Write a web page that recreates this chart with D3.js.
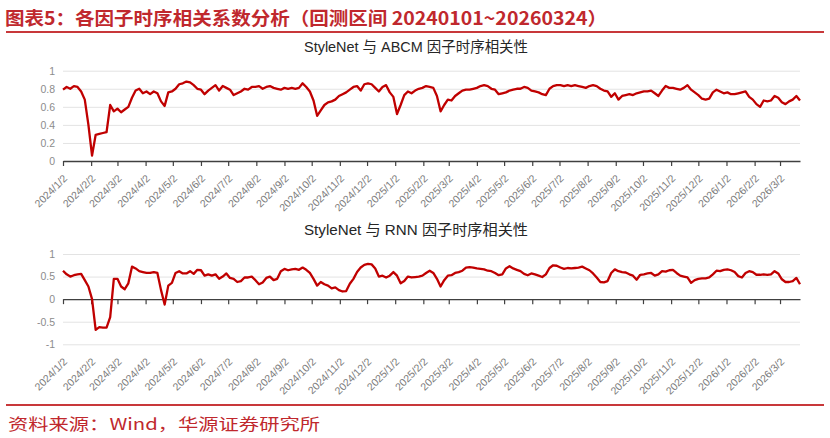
<!DOCTYPE html>
<html>
<head>
<meta charset="utf-8">
<script src="https://cdn.jsdelivr.net/npm/d3@7"></script>
<style>
  body { margin: 0; background: #fff; }
  svg { display: block; }
</style>
</head>
<body>
<script>
// values, one point every 4 calendar days from 2024/1/2
var abcmValues = [
  0.79,0.82,0.80,0.83,0.82,0.77,0.68,0.40,0.06,0.29,
  0.30,0.31,0.32,0.62,0.55,0.58,0.54,0.57,0.60,0.70,
  0.78,0.80,0.75,0.77,0.74,0.77,0.75,0.66,0.61,0.76,
  0.77,0.80,0.85,0.86,0.88,0.87,0.84,0.80,0.79,0.74,
  0.78,0.81,0.84,0.78,0.83,0.81,0.79,0.73,0.75,0.77,
  0.80,0.79,0.82,0.82,0.83,0.80,0.82,0.83,0.81,0.80,
  0.79,0.81,0.80,0.81,0.80,0.81,0.86,0.82,0.77,0.67,
  0.50,0.56,0.62,0.65,0.66,0.68,0.72,0.74,0.76,0.79,
  0.82,0.83,0.78,0.85,0.86,0.85,0.81,0.77,0.82,0.84,
  0.76,0.71,0.52,0.62,0.73,0.77,0.75,0.78,0.80,0.81,
  0.83,0.82,0.81,0.72,0.55,0.62,0.68,0.67,0.72,0.75,
  0.78,0.79,0.79,0.80,0.81,0.83,0.84,0.83,0.80,0.79,
  0.74,0.75,0.76,0.78,0.79,0.80,0.80,0.82,0.81,0.78,
  0.77,0.76,0.74,0.73,0.80,0.83,0.84,0.84,0.83,0.84,
  0.83,0.84,0.83,0.82,0.81,0.83,0.84,0.83,0.80,0.78,
  0.77,0.71,0.75,0.68,0.72,0.73,0.74,0.73,0.75,0.76,
  0.77,0.77,0.78,0.75,0.72,0.78,0.83,0.81,0.81,0.80,
  0.79,0.81,0.84,0.79,0.76,0.73,0.69,0.68,0.69,0.76,
  0.79,0.77,0.75,0.76,0.74,0.74,0.75,0.76,0.77,0.71,
  0.68,0.63,0.60,0.67,0.66,0.67,0.72,0.70,0.65,0.63,
  0.66,0.68,0.72,0.67
];

var rnnValues = [
  0.63,0.55,0.50,0.53,0.55,0.56,0.42,0.28,0.00,-0.68,
  -0.62,-0.63,-0.63,-0.40,0.45,0.45,0.28,0.22,0.35,0.72,
  0.68,0.62,0.60,0.58,0.58,0.60,0.58,0.20,-0.12,0.30,
  0.36,0.58,0.62,0.57,0.57,0.62,0.56,0.65,0.64,0.52,
  0.55,0.52,0.55,0.45,0.50,0.57,0.47,0.45,0.38,0.40,
  0.48,0.48,0.50,0.42,0.33,0.37,0.47,0.50,0.42,0.45,
  0.62,0.67,0.64,0.66,0.67,0.65,0.70,0.65,0.58,0.45,
  0.30,0.38,0.33,0.30,0.24,0.26,0.20,0.17,0.18,0.34,
  0.45,0.60,0.70,0.76,0.78,0.77,0.68,0.50,0.52,0.48,
  0.52,0.60,0.52,0.35,0.40,0.50,0.48,0.49,0.50,0.52,
  0.58,0.63,0.58,0.45,0.28,0.42,0.52,0.53,0.58,0.60,
  0.63,0.70,0.71,0.70,0.68,0.67,0.66,0.63,0.62,0.58,
  0.53,0.55,0.68,0.73,0.68,0.65,0.62,0.56,0.53,0.57,
  0.55,0.52,0.49,0.55,0.69,0.75,0.74,0.70,0.67,0.69,
  0.68,0.69,0.70,0.72,0.68,0.64,0.57,0.48,0.38,0.37,
  0.40,0.58,0.66,0.62,0.60,0.59,0.55,0.52,0.43,0.54,
  0.55,0.57,0.58,0.52,0.55,0.62,0.61,0.64,0.65,0.58,
  0.52,0.50,0.48,0.36,0.42,0.45,0.46,0.46,0.48,0.55,
  0.63,0.62,0.65,0.66,0.64,0.60,0.51,0.48,0.58,0.62,
  0.60,0.54,0.54,0.55,0.54,0.55,0.62,0.57,0.44,0.38,
  0.38,0.40,0.47,0.33
];

var tickLabels = [
  "2024/1/2","2024/2/2","2024/3/2","2024/4/2","2024/5/2","2024/6/2","2024/7/2",
  "2024/8/2","2024/9/2","2024/10/2","2024/11/2","2024/12/2","2025/1/2","2025/2/2",
  "2025/3/2","2025/4/2","2025/5/2","2025/6/2","2025/7/2","2025/8/2","2025/9/2",
  "2025/10/2","2025/11/2","2025/12/2","2026/1/2","2026/2/2","2026/3/2"
];

var topTicks = [0, 0.2, 0.4, 0.6, 0.8, 1];
var bottomTicks = [-1, -0.5, 0, 0.5, 1];

var titleText = "图表5：各因子时序相关系数分析（回测区间 20240101~20260324）";
var topTitle = "StyleNet 与 ABCM 因子时序相关性";
var bottomTitle = "StyleNet 与 RNN 因子时序相关性";
var sourceText = "资料来源：Wind，华源证券研究所";

var parseTick = d3.timeParse("%Y/%m/%d");
var startDate = parseTick("2024/1/2");
var dates = abcmValues.map(function(v, i) { return d3.timeDay.offset(startDate, 4 * i); });
var tickDates = tickLabels.map(parseTick);

var W = 830, H = 438;
var red = "#c0282d", lineRed = "#c00000";
var cjk = "'Noto Sans CJK SC', sans-serif";
var latin = "'Liberation Sans', 'Noto Sans CJK SC', sans-serif";

var svg = d3.select("body").append("svg")
    .attr("width", W)
    .attr("height", H);

svg.append("rect").attr("width", W).attr("height", H).attr("fill", "#fff");

// header + footer
svg.append("text")
    .attr("x", 5).attr("y", 25)
    .attr("textLength", 602).attr("lengthAdjust", "spacingAndGlyphs")
    .style("font-family", cjk).style("font-size", "18px").style("font-weight", "bold")
    .style("fill", red)
    .text(titleText);

svg.append("line").attr("x1", 6).attr("x2", 824).attr("y1", 32).attr("y2", 32)
    .attr("stroke", "#c8383a").attr("stroke-width", 2);

svg.append("line").attr("x1", 6).attr("x2", 824).attr("y1", 405).attr("y2", 405)
    .attr("stroke", "#c8383a").attr("stroke-width", 2);

svg.append("text")
    .attr("x", 8).attr("y", 430)
    .attr("textLength", 312).attr("lengthAdjust", "spacingAndGlyphs")
    .style("font-family", cjk).style("font-size", "16px")
    .style("fill", red)
    .text(sourceText);

var x = d3.scaleTime()
    .domain([dates[0], dates[dates.length - 1]])
    .range([63, 800]);

function drawPanel(values, yScale, yTicks, title, titleY, labelBase) {
  var g = svg.append("g");

  g.append("text")
      .attr("x", 416).attr("y", titleY)
      .attr("text-anchor", "middle")
      .attr("textLength", 224).attr("lengthAdjust", "spacingAndGlyphs")
      .style("font-family", latin).style("font-size", "15px")
      .style("fill", "#262626")
      .text(title);

  // grid + y labels
  var yAxis = d3.axisLeft(yScale)
      .tickValues(yTicks)
      .tickSize(-(800 - 63))
      .tickPadding(8)
      .tickFormat(function(d) { return String(d); });

  var ya = g.append("g")
      .attr("transform", "translate(63,0)")
      .call(yAxis);
  ya.select(".domain").remove();
  ya.selectAll("line").attr("stroke", "#e3e3e3");
  ya.selectAll("text")
      .style("font-family", latin).style("font-size", "10.5px")
      .style("fill", "#8c8c8c");

  // x axis on zero
  var xa = g.append("g")
      .attr("transform", "translate(0," + yScale(0) + ")")
      .call(d3.axisBottom(x).tickValues(tickDates).tickSize(5).tickSizeOuter(0).tickFormat(""));
  xa.select(".domain").attr("stroke", "#404040").attr("stroke-width", 1.3);
  xa.selectAll(".tick line").attr("stroke", "#404040").attr("stroke-width", 1.2);

  // rotated date labels
  g.selectAll(".dlabel")
      .data(tickDates)
      .enter()
      .append("text")
      .attr("class", "dlabel")
      .attr("transform", function(d) {
        return "translate(" + (x(d) + 5) + "," + (labelBase + 18) + ") rotate(-45)";
      })
      .attr("text-anchor", "end")
      .style("font-family", latin).style("font-size", "10.5px")
      .style("fill", "#7a7a7a")
      .text(function(d, i) { return tickLabels[i]; });

  var line = d3.line()
      .x(function(d, i) { return x(dates[i]); })
      .y(function(d) { return yScale(d); });

  g.append("path")
      .datum(values)
      .attr("d", line)
      .attr("fill", "none")
      .attr("stroke", lineRed)
      .attr("stroke-width", 2.3)
      .attr("stroke-linejoin", "round");
}

var yTop = d3.scaleLinear().domain([0, 1]).range([161, 70.7]);
var yBottom = d3.scaleLinear().domain([-1, 1]).range([344.3, 254]);

drawPanel(abcmValues, yTop, topTicks, topTitle, 52, 161);
drawPanel(rnnValues, yBottom, bottomTicks, bottomTitle, 235, 344.3);
</script>
</body>
</html>
